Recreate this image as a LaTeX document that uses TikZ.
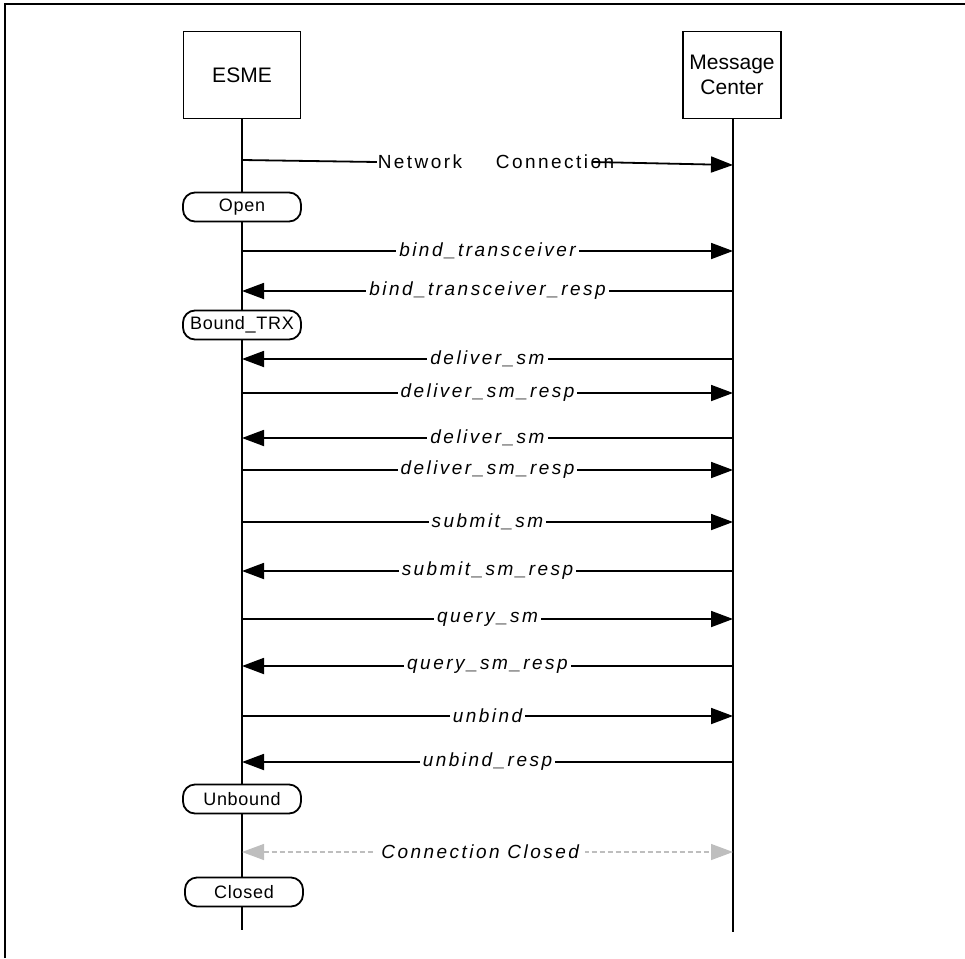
\documentclass[tikz,border=0pt]{standalone}
\usepackage{fontspec}
\setmainfont{Liberation Sans}
\newfontfamily\msgfont[LetterSpace=13]{Liberation Sans}
\newfontfamily\statefont[LetterSpace=4]{Liberation Sans}
\usepackage{tikz}
\usetikzlibrary{arrows.meta, positioning}
\definecolor{closegray}{RGB}{190,190,190}

\begin{document}
\begin{tikzpicture}[x=1pt,y=-1pt,line width=1.8pt,
  entity/.style={rectangle,draw,minimum width=117pt,minimum height=87pt,
  font=\fontsize{21}{25}\selectfont,align=center},
  statebox/.style={rectangle,draw,fill=white,rounded corners=12pt,
  minimum width=118pt,minimum height=29pt,font=\statefont\fontsize{18}{20}\selectfont},
  msg/.style={-{Triangle[length=22pt,width=16pt]}},
  lbl/.style={fill=white,inner sep=3pt,font=\msgfont\itshape\fontsize{19}{22}\selectfont},
  netlbl/.style={inner sep=0pt,font=\msgfont\fontsize{19}{22}\selectfont},
  closing/.style={closegray,dash pattern=on 5pt off 3pt,line width=1.3pt,
  {Triangle[length=22pt,width=16pt]}-{Triangle[length=22pt,width=16pt]}}]
  \useasboundingbox (0,0) rectangle (965,958);
  \draw (5,958) -- (5,4) -- (965,4);

  \node[entity] (esme) at (242,75) {ESME};
  \node[entity, minimum width=98pt] (mc) at (732,75) {Message\\Center};
  \coordinate (esmeend) at (242,930);
  \coordinate (mcend) at (733,932);
  \draw (esme.south) -- (esmeend);
  \draw (mc.south -| mcend) -- (mcend);

  % end points of the messages on both lifelines
  \foreach \n/\y in {bt/251, btr/291, da/359, dar/393, db/438, dbr/470,
    sa/522, sar/571, qa/619, qar/666, ua/716, uar/762, cc/852} {
    \coordinate (E\n) at (242,\y);
    \coordinate (M\n) at (733,\y);
  }
  \coordinate (Enet) at (242,160);
  \coordinate (Mnet) at (733,165);

  \node[netlbl] (net) at (420,162) {Network};
  \node[netlbl] (conn) at (555,162) {Connection};
  \draw (Enet) -- (net.west);
  \draw[msg] ([xshift=-22pt]conn.east) -- (Mnet);

  \node[statebox] (open) at (242,207) {Open};
  \node[statebox] (bound) at (242,325) {Bound\_TRX};

  \path
    (Ebt) edge[msg] node[lbl] {bind\_transceiver} (Mbt)
    (Mbtr) edge[msg] node[lbl] {bind\_transceiver\_resp} (Ebtr)
    (Mda) edge[msg] node[lbl] {deliver\_sm} (Eda)
    (Edar) edge[msg] node[lbl] {deliver\_sm\_resp} (Mdar)
    (Mdb) edge[msg] node[lbl] {deliver\_sm} (Edb)
    (Edbr) edge[msg] node[lbl] {deliver\_sm\_resp} (Mdbr)
    (Esa) edge[msg] node[lbl] {submit\_sm} (Msa)
    (Msar) edge[msg] node[lbl] {submit\_sm\_resp} (Esar)
    (Eqa) edge[msg] node[lbl] {query\_sm} (Mqa)
    (Mqar) edge[msg] node[lbl] {query\_sm\_resp} (Eqar)
    (Eua) edge[msg] node[lbl] {unbind} (Mua)
    (Muar) edge[msg] node[lbl] {unbind\_resp} (Euar);

  \node[statebox] (unbound) at (242,799) {Unbound};
  \draw[closing] (Ecc) -- node[lbl, text=black, pos=0.485, inner xsep=6pt] {Connection Closed} (Mcc);
  \node[statebox] (closed) at (244,892) {Closed};
\end{tikzpicture}
\end{document}
